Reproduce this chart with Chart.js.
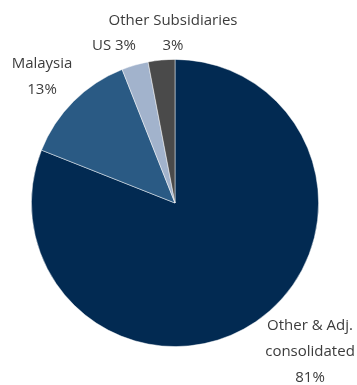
<!DOCTYPE html>
<html>
<head>
<meta charset="utf-8">
<script src="https://cdn.jsdelivr.net/npm/chart.js@4"></script>
<style>
  html, body { margin: 0; padding: 0; background: #fff; }
  #wrap { width: 357px; height: 385px; position: relative; }
</style>
</head>
<body>
<div id="wrap"><canvas id="pie"></canvas></div>
<script>
// chart data
const categories = ['Other & Adj. consolidated', 'Malaysia', 'US', 'Other Subsidiaries'];
const shares = [81, 13, 3, 3];
const sliceColors = ['#022a52', '#2a5a84', '#a2b3cc', '#4a4a4a'];

// label text lines per slice
const labelLines = [
  ['Other & Adj.', 'consolidated', '81%'],
  ['Malaysia', '13%'],
  ['US 3%'],
  ['Other Subsidiaries', '3%']
];
// where each label block sits, relative to the pie centre (px), and its line step
const labelAnchors = [
  { dx: 135, dy: 123, step: 26 },
  { dx: -133, dy: -139, step: 26 },
  { dx: -61, dy: -157, step: 0 },
  { dx: -2, dy: -182, step: 25 }
];

const outsideLabels = {
  id: 'outsideLabels',
  afterDatasetsDraw(chart) {
    const ctx = chart.ctx;
    const arc = chart.getDatasetMeta(0).data[0];
    const cx = arc.x, cy = arc.y;
    ctx.save();
    ctx.font = '15px "Open Sans"';
    ctx.fillStyle = '#3c3c3c';
    ctx.textAlign = 'center';
    ctx.textBaseline = 'middle';
    labelLines.forEach((lines, i) => {
      const a = labelAnchors[i];
      lines.forEach((t, j) => {
        ctx.fillText(t, cx + a.dx, cy + a.dy + j * a.step);
      });
    });
    ctx.restore();
  }
};

new Chart(document.getElementById('pie'), {
  type: 'pie',
  data: {
    labels: categories,
    datasets: [{
      data: shares,
      backgroundColor: sliceColors,
      borderColor: 'rgba(255,255,255,0.6)',
      borderWidth: 0.8
    }]
  },
  options: {
    responsive: true,
    maintainAspectRatio: false,
    animation: false,
    layout: { padding: { left: 31, right: 38, top: 59, bottom: 38 } },
    plugins: {
      legend: { display: false },
      tooltip: { enabled: false }
    }
  },
  plugins: [outsideLabels]
});
</script>
</body>
</html>
